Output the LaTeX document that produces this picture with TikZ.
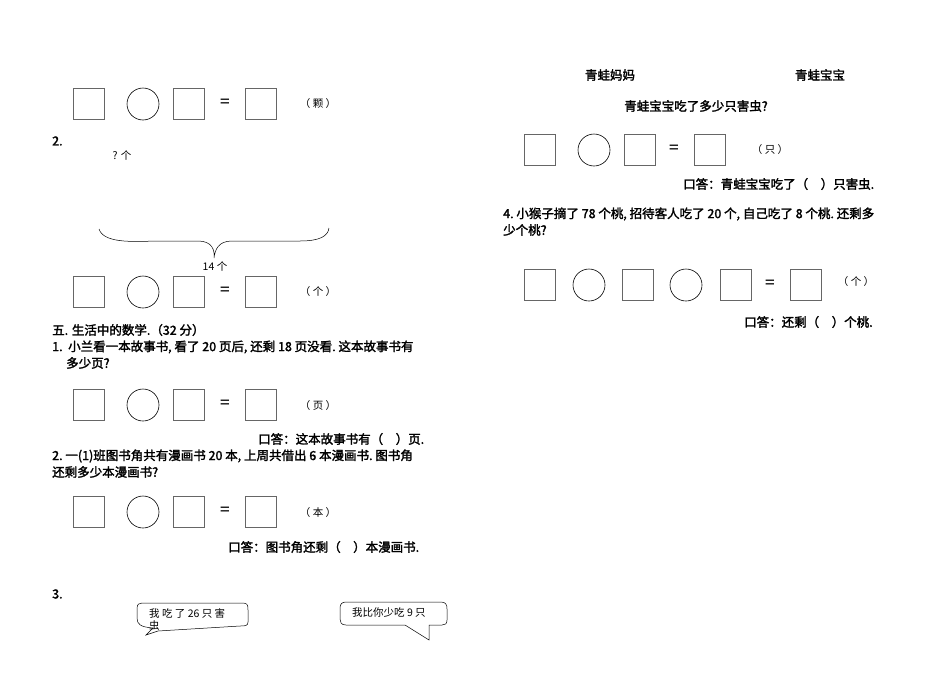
\documentclass[tikz,border=0pt]{standalone}
\usepackage{fontspec}
\setmainfont{Liberation Serif}
\newfontfamily\cjk[AutoFakeBold=2]{Noto Sans CJK SC}
\begin{document}
\begin{tikzpicture}[x=1pt,y=-1pt,
  bx/.style={draw=black!60,line width=0.8pt,minimum size=31pt,inner sep=0pt},
  ci/.style={draw=black,line width=0.6pt,circle,minimum size=32pt,inner sep=0pt},
  tx/.style={font=\cjk\fontsize{10.5}{12}\selectfont,inner sep=0pt},
  bt/.style={font=\cjk\bfseries\fontsize{12.5}{13}\selectfont,inner sep=0pt,anchor=west},
  eq/.style={font=\bfseries\fontsize{18}{18}\selectfont,inner sep=0pt}]
\useasboundingbox (0,0) rectangle (950,672);
% row 1
\node[bx] (a1) at (89,104) {}; \node[ci] (a2) at (143,104) {}; \node[bx] (a3) at (189,104) {};
\node[eq] (a4) at (225,103) {=}; \node[bx] (a5) at (261,104) {}; \node[tx] (a6) at (318,104) {（\ 颗\ ）};
\node[bt] (n2) at (52,141) {2.};
\node[tx] (q) at (122,155) {? 个};
\draw[line width=0.5pt] (99,229) .. controls (104,245) and (140,241) .. (160,241) -- (198,241) .. controls (212,241) and (215,250) .. (214,258) .. controls (215,250) and (218,241) .. (232,241) -- (300,241) .. controls (320,241) and (328,236) .. (329,228);
\node[tx] (f14) at (215,266) {14 个};
\node[bx] (b1) at (89,292) {}; \node[ci] (b2) at (143,292) {}; \node[bx] (b3) at (189,292) {};
\node[eq] (b4) at (225,291) {=}; \node[bx] (b5) at (261,292) {}; \node[tx] (b6) at (318,292) {（\ 个\ ）};
\node[bt] (s5) at (52,330) {五. 生活中的数学.（32 分）};
\node[bt] (p1) at (52,347) {1.\ \ 小兰看一本故事书,\ 看了 20 页后,\ 还剩 18 页没看.\ 这本故事书有};
\node[bt] (p1b) at (66,363) {多少页?};
\node[bx] (c1) at (89,405) {}; \node[ci] (c2) at (143,405) {}; \node[bx] (c3) at (189,405) {};
\node[eq] (c4) at (225,404) {=}; \node[bx] (c5) at (261,405) {}; \node[tx] (c6) at (318,406) {（\ 页\ ）};
\node[bt] (k1) at (258,439) {口答：这本故事书有（\quad ）页.};
\node[bt] (p2) at (52,456) {2.\ 一(1)班图书角共有漫画书 20 本,\ 上周共借出 6 本漫画书.\ 图书角};
\node[bt] (p2b) at (52,472) {还剩多少本漫画书?};
\node[bx] (d1) at (89,512) {}; \node[ci] (d2) at (143,512) {}; \node[bx] (d3) at (189,512) {};
\node[eq] (d4) at (225,511) {=}; \node[bx] (d5) at (261,512) {}; \node[tx] (d6) at (318,513) {（\ 本\ ）};
\node[bt] (k2) at (228,547) {口答：图书角还剩（\quad ）本漫画书.};
\node[bt] (n3) at (52,594) {3.};
% bubbles
\draw[line width=0.5pt] (142,603) -- (243,603) .. controls (248,603) and (248,606) .. (248,610) -- (248,622) .. controls (248,626) and (245,626) .. (240,626) -- (158,631) -- (146,635) -- (153,628) .. controls (140,627) and (137,624) .. (137,618) -- (137,609) .. controls (137,604) and (139,603) .. (142,603);
\node[tx,anchor=west] (u1) at (149,613) {我 吃 了 26 只 害};
\node[tx,anchor=west] (u1b) at (149,626) {虫};
\draw[line width=0.5pt] (346,602) -- (441,602) .. controls (446,602) and (447,605) .. (447,609) -- (447,620) .. controls (447,624) and (445,625) .. (442,625) -- (429,625) -- (429,640) -- (405,625) -- (346,625) .. controls (341,625) and (340,622) .. (340,619) -- (340,608) .. controls (340,604) and (342,602) .. (346,602);
\node[tx,anchor=west] (u2) at (352,613) {我比你少吃 9 只};
% right
\node[bt,anchor=center] (r1) at (610,75) {青蛙妈妈};
\node[bt,anchor=center] (r2) at (820,75) {青蛙宝宝};
\node[bt,anchor=center] (r3) at (696,106) {青蛙宝宝吃了多少只害虫?};
\node[bx] (e1) at (540,150) {}; \node[ci] (e2) at (594,150) {}; \node[bx] (e3) at (640,150) {};
\node[eq] (e4) at (674,149) {=}; \node[bx] (e5) at (710,150) {}; \node[tx] (e6) at (770,150) {（\ 只\ ）};
\node[bt] (k3) at (683,184) {口答：青蛙宝宝吃了（\quad ）只害虫.};
\node[bt] (p4) at (503,214) {4.\ 小猴子摘了 78 个桃,\ 招待客人吃了 20 个,\ 自己吃了 8 个桃.\ 还剩多};
\node[bt] (p4b) at (503,230) {少个桃?};
\node[bx] (g1) at (540,285) {}; \node[ci] (g2) at (589,285) {}; \node[bx] (g3) at (638,285) {};
\node[ci] (g4) at (686,285) {}; \node[bx] (g5) at (736,285) {};
\node[eq] (g6) at (770,284) {=}; \node[bx] (g7) at (806,285) {}; \node[tx] (g8) at (856,282) {（\ 个\ ）};
\node[bt] (k4) at (744,322) {口答：还剩（\quad ）个桃.};
\end{tikzpicture}
\end{document}
